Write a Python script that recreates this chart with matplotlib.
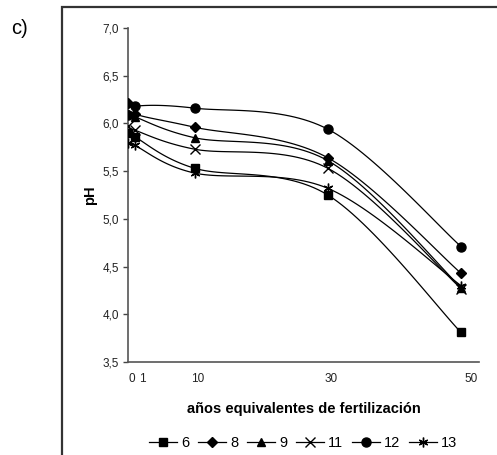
import numpy as np
import matplotlib
matplotlib.use("Agg")
import matplotlib.pyplot as plt
from matplotlib.lines import Line2D
from matplotlib.patches import Rectangle

plt.rcParams['font.family'] = ['Liberation Sans', 'DejaVu Sans']

# Years of equivalent fertilization
years = [0, 1, 10, 30, 50]

# pH per series
ph_6 = [5.90, 5.86, 5.53, 5.25, 3.81]
ph_8 = [6.21, 6.10, 5.96, 5.64, 4.43]
ph_9 = [6.10, 6.07, 5.85, 5.61, 4.28]
ph_11 = [5.97, 5.93, 5.73, 5.53, 4.27]
ph_12 = [6.09, 6.18, 6.16, 5.94, 4.71]
ph_13 = [5.80, 5.77, 5.48, 5.32, 4.30]

series_labels = ['6', '8', '9', '11', '12', '13']
series_values = [ph_6, ph_8, ph_9, ph_11, ph_12, ph_13]

x_tick_labels = ['0', '1', '10', '30', '50']
y_ticks = [3.5, 4.0, 4.5, 5.0, 5.5, 6.0, 6.5, 7.0]

markers = ['s', 'D', '^', 'x', 'o', (6, 2, 0)]
msizes = [5.5, 5.0, 6.0, 6.5, 6.5, 7.0]


def smooth(xs, ys, n=30):
    """Catmull-Rom style smoothing through all points (Bezier segments)."""
    x = np.asarray(xs, float)
    y = np.asarray(ys, float)
    px = np.concatenate([[x[0]], x, [x[-1]]])
    py = np.concatenate([[y[0]], y, [y[-1]]])
    out_x, out_y = [], []
    t = np.linspace(0, 1, n)
    for i in range(1, len(px) - 2):
        p0 = np.array([px[i], py[i]])
        p3 = np.array([px[i + 1], py[i + 1]])
        p1 = p0 + (np.array([px[i + 1], py[i + 1]]) - np.array([px[i - 1], py[i - 1]])) / 6
        p2 = p3 - (np.array([px[i + 2], py[i + 2]]) - np.array([px[i], py[i]])) / 6
        b = ((1 - t) ** 3)[:, None] * p0 + (3 * (1 - t) ** 2 * t)[:, None] * p1 \
            + (3 * (1 - t) * t ** 2)[:, None] * p2 + (t ** 3)[:, None] * p3
        out_x.extend(b[:, 0])
        out_y.extend(b[:, 1])
    return np.array(out_x), np.array(out_y)


W, H = 497, 455
fig = plt.figure(figsize=(W / 100, H / 100), dpi=100)

# axes box in pixel coordinates
left, right, top, bottom = 128, 479, 28, 362
ax = fig.add_axes([left / W, 1 - bottom / H, (right - left) / W, (bottom - top) / H])
ax.patch.set_alpha(0)

for vals, m, ms in zip(series_values, markers, msizes):
    sx, sy = smooth(years, vals)
    ax.plot(sx, sy, color='black', lw=0.9, zorder=2)
    ax.plot(years, vals, linestyle='none', marker=m, markersize=ms,
            color='black', markeredgecolor='black', markeredgewidth=1.0, zorder=3)

ax.set_xlim(0, 52.7)
ax.set_ylim(3.5, 7.0)
ax.set_yticks(y_ticks)
ax.set_yticklabels([f"{v:.1f}".replace('.', ',') for v in y_ticks], fontsize=8.5, color='#222222')
ax.tick_params(axis='y', direction='out', length=3.5, width=1.0, color='#444444', pad=3)

# category-style x labels, nudged so that "0" and "1" do not collide
ax.set_xticks([0.6, 2.2, 10.5, 30.5, 51.5])
ax.set_xticklabels(x_tick_labels, fontsize=8.5, color='#222222')
ax.tick_params(axis='x', length=0, pad=8)

for s in ['top', 'right']:
    ax.spines[s].set_visible(False)
for s in ['left', 'bottom']:
    ax.spines[s].set_color('#555555')
    ax.spines[s].set_linewidth(1.2)

ax.set_ylabel('pH', fontsize=10.5, fontweight='bold', labelpad=4)
ax.set_xlabel('años equivalentes de fertilización', fontsize=10.5, fontweight='bold', labelpad=12)

handles = [Line2D([0], [0], color='black', lw=0.9, marker=m, markersize=ms,
                  markerfacecolor='black', markeredgecolor='black')
           for m, ms in zip(markers, msizes)]
fig.legend(handles, series_labels, loc='center', ncol=6, frameon=False,
           bbox_to_anchor=((left + right) / 2 / W, 1 - 443 / H),
           fontsize=10.5, handlelength=1.9, handletextpad=0.3, columnspacing=0.6)

# outer panel frame and panel tag
fig.patches.append(Rectangle((62 / W, -0.05), 1.0, 1 - 7 / H + 0.05,
                             transform=fig.transFigure, fill=False,
                             edgecolor='#333333', lw=1.6))
fig.text(11 / W, 1 - 29 / H, 'c)', fontsize=14.5, va='center', ha='left')

fig.savefig('out.png', dpi=100)
